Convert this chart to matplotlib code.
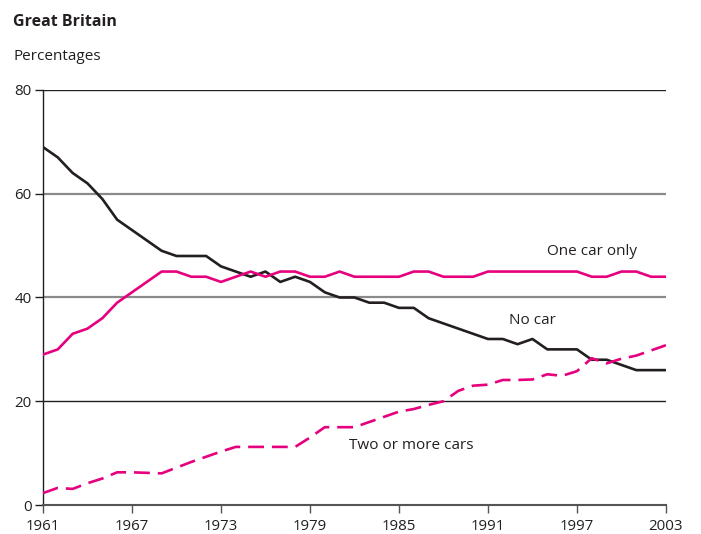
import numpy as np
import matplotlib.pyplot as plt

plt.rcParams['font.family'] = ['Open Sans', 'DejaVu Sans']

years = list(range(1961, 2004))

no_car = [69, 67, 64, 62, 59, 55, 53, 51, 49, 48,
          48, 48, 46, 45, 44, 45, 43, 44, 43, 41,
          40, 40, 39, 39, 38, 38, 36, 35, 34, 33,
          32, 32, 31, 32, 30, 30, 30, 28, 28, 27,
          26, 26, 26]

one_car = [29, 30, 33, 34, 36, 39, 41, 43, 45, 45,
           44, 44, 43, 44, 45, 44, 45, 45, 44, 44,
           45, 44, 44, 44, 44, 45, 45, 44, 44, 44,
           45, 45, 45, 45, 45, 45, 45, 44, 44, 45,
           45, 44, 44]

two_cars = [2.3, 3.3, 3.1, 4.2, 5.1, 6.3, 6.3, 6.2, 6.1, 7.2,
            8.3, 9.3, 10.3, 11.2, 11.2, 11.2, 11.2, 11.2, 13, 15,
            15, 15, 16, 17, 18, 18.5, 19.3, 20, 22, 23,
            23.2, 24.1, 24.1, 24.2, 25.2, 24.9, 25.8, 28.3, 27.3, 28.2,
            28.8, 29.8, 30.8]

xticks = [1961, 1967, 1973, 1979, 1985, 1991, 1997, 2003]
yticks = [0, 20, 40, 60, 80]

black = '#231f20'
pink = '#e6007e'

fig = plt.figure(figsize=(7.01, 5.34), dpi=100)
ax = fig.add_axes([0.0613, 0.0543, 0.8887, 0.7772])

# horizontal reference lines
ax.axhline(80, color=black, lw=1.0, zorder=1)
ax.axhline(60, color='#8a8a8a', lw=1.6, zorder=1)
ax.axhline(40, color='#8a8a8a', lw=1.6, zorder=1)
ax.axhline(20, color=black, lw=1.0, zorder=1)

ax.plot(years, no_car, color=black, lw=1.9, zorder=3)
ax.plot(years, one_car, color=pink, lw=1.9, zorder=3)
ax.plot(years, two_cars, color=pink, lw=1.9, dashes=(6, 3), zorder=3)

ax.set_xlim(1961, 2003)
ax.set_ylim(0, 80)
ax.set_xticks(xticks)
ax.set_yticks(yticks)
ax.tick_params(axis='both', direction='out', length=6, width=1, color=black,
               labelsize=10.8, labelcolor=black)
ax.tick_params(axis='x', pad=4, color='#555555')
ax.tick_params(axis='y', pad=2)

for s in ['top', 'right']:
    ax.spines[s].set_visible(False)
ax.spines['left'].set_color(black)
ax.spines['left'].set_linewidth(1.0)
ax.spines['bottom'].set_color('#555555')
ax.spines['bottom'].set_linewidth(1.5)

ax.text(1998.0, 48.9, 'One car only', fontsize=11, color=black, ha='center', va='center')
ax.text(1994.0, 35.6, 'No car', fontsize=11, color=black, ha='center', va='center')
ax.text(1985.8, 11.4, 'Two or more cars', fontsize=11, color=black, ha='center', va='center')

fig.text(13 / 701, 1 - 22 / 534, 'Great Britain', fontsize=11.5, fontweight='bold',
         color=black, ha='left', va='center')
fig.text(13 / 701, 1 - 56 / 534, 'Percentages', fontsize=11, color=black,
         ha='left', va='center')

fig.savefig('out.png', dpi=100)
